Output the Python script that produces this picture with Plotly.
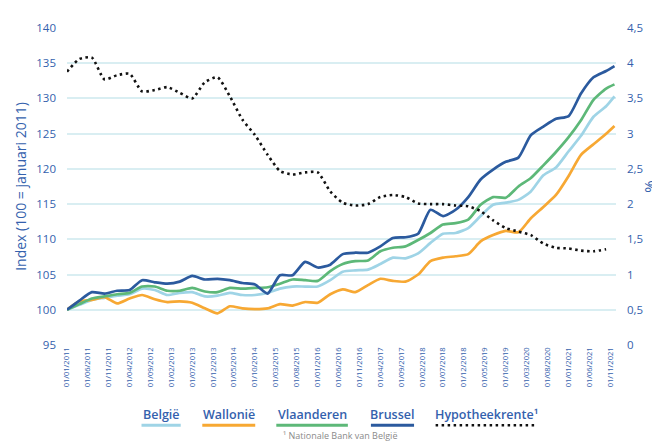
import plotly.graph_objects as go

dates = [
    "2011-01-01", "2011-04-01", "2011-07-01", "2011-10-01",
    "2012-01-01", "2012-04-01", "2012-07-01", "2012-10-01",
    "2013-01-01", "2013-04-01", "2013-07-01", "2013-10-01",
    "2014-01-01", "2014-04-01", "2014-07-01", "2014-10-01",
    "2015-01-01", "2015-04-01", "2015-07-01", "2015-10-01",
    "2016-01-01", "2016-04-01", "2016-07-01", "2016-10-01",
    "2017-01-01", "2017-04-01", "2017-07-01", "2017-10-01",
    "2018-01-01", "2018-04-01", "2018-07-01", "2018-10-01",
    "2019-01-01", "2019-04-01", "2019-07-01", "2019-10-01",
    "2020-01-01", "2020-04-01", "2020-07-01", "2020-10-01",
    "2021-01-01", "2021-04-01", "2021-07-01", "2021-10-01",
    "2021-12-01",
]

belgie = [100.0, 100.7, 101.4, 101.7, 102.0, 102.2, 103.0, 102.8, 102.1, 102.4,
          102.5, 101.9, 102.0, 102.4, 102.1, 102.1, 102.4, 103.0, 103.3, 103.3,
          103.3, 104.2, 105.4, 105.6, 105.7, 106.5, 107.4, 107.3, 108.0, 109.5,
          110.8, 110.9, 111.6, 113.3, 114.9, 115.2, 115.6, 116.8, 119.1, 120.2,
          122.5, 124.7, 127.4, 128.9, 130.3]

wallonie = [100.0, 101.2, 101.4, 101.8, 100.9, 101.6, 102.1, 101.5, 101.1, 101.2,
            101.0, 100.2, 99.5, 100.5, 100.2, 100.1, 100.2, 100.8, 100.6, 101.1,
            101.0, 102.2, 102.9, 102.5, 103.5, 104.4, 104.1, 104.0, 105.0, 106.9,
            107.4, 107.6, 107.9, 109.7, 110.6, 111.2, 111.0, 113.0, 114.6, 116.3,
            119.0, 122.0, 123.5, 125.0, 126.1]

vlaanderen = [100.0, 100.8, 101.6, 101.9, 102.2, 102.4, 103.3, 103.3, 102.7, 102.7,
              103.1, 102.6, 102.5, 103.1, 103.0, 103.1, 103.2, 103.7, 104.3, 104.2,
              104.1, 105.5, 106.5, 106.9, 107.0, 108.3, 108.8, 109.0, 109.9, 110.9,
              112.1, 112.3, 112.8, 114.9, 116.0, 115.9, 117.5, 118.7, 120.5, 122.4,
              124.5, 126.9, 129.8, 131.4, 132.0]

brussel = [100.0, 101.3, 102.5, 102.3, 102.7, 102.8, 104.2, 103.9, 103.7, 104.0,
           104.8, 104.3, 104.4, 104.2, 103.8, 103.6, 102.3, 104.9, 104.9, 106.8,
           106.0, 106.4, 107.9, 108.1, 108.1, 109.0, 110.2, 110.3, 110.8, 114.2,
           113.3, 114.2, 116.0, 118.5, 119.9, 121.0, 121.6, 124.8, 126.0, 127.1,
           127.5, 130.7, 133.0, 133.9, 134.6]

hypotheekrente = [3.88, 4.06, 4.08, 3.77, 3.83, 3.85, 3.60, 3.62, 3.66, 3.58,
                  3.50, 3.73, 3.80, 3.53, 3.20, 2.98, 2.70, 2.47, 2.42, 2.45,
                  2.45, 2.18, 2.02, 1.98, 2.00, 2.10, 2.13, 2.10, 2.01, 2.00,
                  2.00, 1.98, 1.97, 1.90, 1.77, 1.66, 1.61, 1.56, 1.44, 1.38,
                  1.37, 1.34, 1.33, 1.36, None]

tick_dates = [
    "2011-01-01", "2011-06-01", "2011-11-01", "2012-04-01", "2012-09-01",
    "2013-02-01", "2013-07-01", "2013-12-01", "2014-05-01", "2014-10-01",
    "2015-03-01", "2015-08-01", "2016-01-01", "2016-06-01", "2016-11-01",
    "2017-04-01", "2017-09-01", "2018-02-01", "2018-07-01", "2018-12-01",
    "2019-05-01", "2019-10-01", "2020-03-01", "2020-08-01", "2021-01-01",
    "2021-06-01", "2021-11-01",
]
tick_labels = ["01/" + d[5:7] + "/" + d[0:4] for d in tick_dates]

series_names = ["België", "Wallonië", "Vlaanderen", "Brussel", "Hypotheekrente¹"]
colors = ["#9fd4e6", "#f7a833", "#5db878", "#2b5a9e", "#111111"]

TXT = "#3461ad"
FONT = "Open Sans"

fig = go.Figure()
for name, vals, col in zip(series_names[:4], [belgie, wallonie, vlaanderen, brussel], colors[:4]):
    fig.add_trace(go.Scatter(x=dates, y=vals, name=name, mode="lines",
                             line=dict(color=col, width=2.7, shape="spline", smoothing=0.6)))
fig.add_trace(go.Scatter(x=dates, y=hypotheekrente, name=series_names[4], mode="lines",
                         yaxis="y2",
                         line=dict(color=colors[4], width=2.6, dash="2.5px,3.5px",
                                   shape="spline", smoothing=0.6)))

fig.update_layout(
    width=660, height=444,
    margin=dict(l=57, r=43, t=13, b=107),
    paper_bgcolor="white", plot_bgcolor="white",
    separators=",.",
    showlegend=False,
    font=dict(family=FONT, color=TXT),
    xaxis=dict(type="date", range=["2011-01-01", "2021-12-12"],
               tickvals=tick_dates, ticktext=tick_labels, tickangle=-90,
               tickfont=dict(size=7.5, color=TXT), showgrid=False, zeroline=False,
               showline=False, ticks=""),
    yaxis=dict(range=[95, 140], dtick=5, tickfont=dict(size=11.5, color=TXT),
               gridcolor="#d9eef2", gridwidth=1.5, zeroline=False, showline=False,
               ticklabelstandoff=10,
               title=dict(text="Index (100 = januari 2011)", font=dict(size=14, color=TXT),
                          standoff=6)),
    yaxis2=dict(range=[0, 4.5], dtick=0.5, overlaying="y", side="right",
                tickfont=dict(size=11.5, color=TXT), showgrid=False, zeroline=False,
                showline=False, ticklabelstandoff=10,
                title=dict(text="%", font=dict(size=15, color=TXT), standoff=2)),
)

# custom legend below the chart
leg_x = [153, 222, 307, 389, 485]
leg_w = [40, 54, 73, 44, 104]
plot_l, plot_w, plot_t, plot_h = 57, 560, 13, 324
def px2paper_x(px):
    return (px - plot_l) / plot_w
def py2paper_y(py):
    return (plot_t + plot_h - py) / plot_h

for name, col, cx, w in zip(series_names, colors, leg_x, leg_w):
    fig.add_annotation(x=px2paper_x(cx), y=py2paper_y(408), xref="paper", yref="paper",
                       text=name, showarrow=False, xanchor="center", yanchor="middle",
                       font=dict(size=12.5, color=TXT, family=FONT, weight=600))
    if name.startswith("Hypo"):
        fig.add_shape(type="line", xref="paper", yref="paper",
                      x0=px2paper_x(cx - w / 2), x1=px2paper_x(cx + w / 2),
                      y0=py2paper_y(419), y1=py2paper_y(419),
                      line=dict(color=col, width=2.6, dash="2.5px,3.5px"))
    else:
        fig.add_shape(type="line", xref="paper", yref="paper",
                      x0=px2paper_x(cx - w / 2), x1=px2paper_x(cx + w / 2),
                      y0=py2paper_y(419), y1=py2paper_y(419),
                      line=dict(color=col, width=3))

fig.add_annotation(x=px2paper_x(335), y=py2paper_y(430), xref="paper", yref="paper",
                   text="¹ Nationale Bank van België", showarrow=False,
                   xanchor="center", yanchor="middle", borderpad=0,
                   font=dict(size=9, color="#8a8a8a", family=FONT))

fig.write_html("out.html")
